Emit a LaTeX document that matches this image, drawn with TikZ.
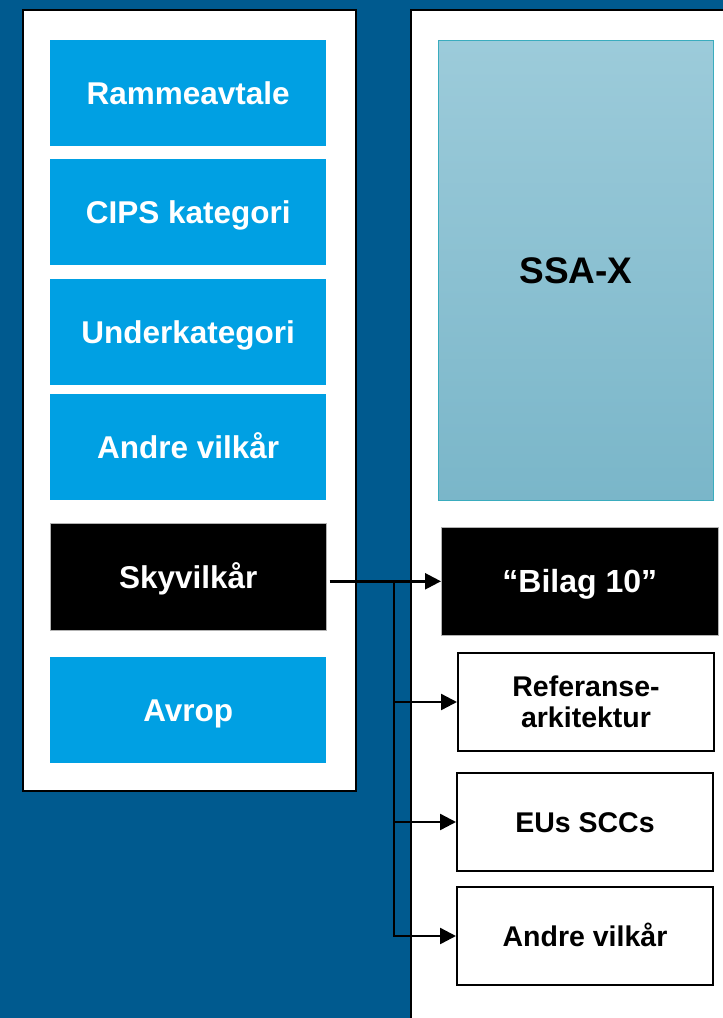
\documentclass[tikz,border=0pt]{standalone}
\usepackage{fontspec}
\setmainfont{Liberation Sans}
\usetikzlibrary{arrows.meta}
\definecolor{bgblue}{RGB}{0,90,143}
\definecolor{boxblue}{RGB}{0,160,227}
\definecolor{ssatop}{RGB}{156,203,218}
\definecolor{ssabot}{RGB}{122,182,201}
\definecolor{ssaedge}{RGB}{58,172,190}
\begin{document}
\begin{tikzpicture}[x=1pt,y=-1pt,
  panel/.style={draw=black,line width=2pt,fill=white,anchor=north west,inner sep=0pt},
  lbox/.style={anchor=north west,inner sep=0pt,minimum width=276pt,minimum height=106pt,
    text=white,font=\bfseries\fontsize{31.5}{34}\selectfont,text height=22.6pt,text depth=0pt},
  bluebox/.style={lbox,fill=boxblue},
  blackbox/.style={lbox,fill=black,draw=black!30,line width=0.6pt},
  wbox/.style={anchor=north west,inner sep=0pt,draw=black,line width=2pt,fill=white,
    minimum width=256pt,minimum height=98pt,align=center,
    font=\bfseries\fontsize{28.5}{31}\selectfont},
  one/.style={text height=20.4pt,text depth=0pt},
  conn/.style={line width=2.4pt,draw=black},
  tip/.style={-{Triangle[length=16pt,width=16pt]}}]
\fill[bgblue] (0,0) rectangle (723,1018);
\useasboundingbox (0,0) rectangle (723,1018);
\begin{scope}
\clip (0,0) rectangle (723,1018);
\node[panel,minimum width=333pt,minimum height=781pt] (lp) at (22,9) {};
\node[panel,minimum width=340pt,minimum height=1040pt] (rp) at (410,9) {};
\end{scope}
\node[bluebox] (ramme) at (50,40) {Rammeavtale};
\node[bluebox] (cips) at (50,159) {CIPS kategori};
\node[bluebox] (under) at (50,279) {Underkategori};
\node[bluebox] (andre) at (50,394) {Andre vilkår};
\node[blackbox,minimum height=107pt] (sky) at (50,523) {Skyvilkår};
\node[bluebox] (avrop) at (50,657) {Avrop};
\node[anchor=north west,inner sep=0pt,minimum width=275pt,minimum height=460pt,
  top color=ssatop,bottom color=ssabot,draw=ssaedge,line width=1pt,
  font=\bfseries\fontsize{37}{40}\selectfont,text height=26.5pt,text depth=0pt] (ssa) at (438,40) {SSA-X};
\node[lbox,fill=black,draw=black!30,line width=0.6pt,minimum width=277pt,minimum height=108pt,
  font=\bfseries\fontsize{32}{35}\selectfont,text height=22.9pt] (bilag) at (441,527) {“Bilag 10”};
\node[wbox] (ref) at (457,652) {Referanse-\\arkitektur};
\node[wbox,one] (scc) at (456,772) {EUs SCCs};
\node[wbox,one] (andre2) at (456,886) {Andre vilkår};
\coordinate (jt) at (394,581);
\draw[conn,tip] (sky.east |- bilag.west) ++(3,0) -- (bilag.west);
\draw[conn] (jt) -- (jt |- andre2.west);
\draw[conn,tip] (jt) |- (ref.west);
\draw[conn,tip] (jt) |- (scc.west);
\draw[conn,tip] (jt) |- (andre2.west);
\end{tikzpicture}
\end{document}
